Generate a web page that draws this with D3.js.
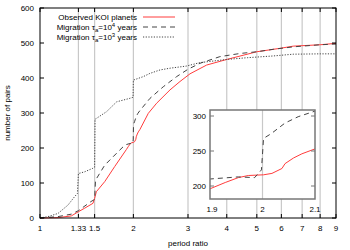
<!DOCTYPE html>
<html>
<head>
<meta charset="utf-8">
<script src="https://cdn.jsdelivr.net/npm/d3@7"></script>
<style>
  body { margin: 0; background: #fff; }
  text { font-family: "Liberation Sans", Arial, sans-serif; font-size: 8px; fill: #000; }
</style>
</head>
<body>
<div id="chart"></div>
<script>
// cumulative number of pairs vs period ratio
var observed = [[1,0],[1.143,1],[1.262,6],[1.33,18],[1.393,28],[1.482,42],[1.5,56],[1.519,75],[1.617,104],[1.741,147],
  [1.9,196],[1.929,205],[1.954,212],[1.973,215],[2.002,216],[2.018,218],[2.037,225],[2.043,232],[2.059,240],[2.075,246],
  [2.1,253],[2.234,299],[2.377,328],[2.625,366],[2.827,390],[3.045,412],[3.445,437],[4,453],[5,475],[5.96,485],[6.55,491],[8,495],[9,499]];

var mig4 = [[1,0],[1.143,4],[1.262,11],[1.33,21],[1.46,47],[1.5,53],[1.51,108],[1.617,151],[1.784,189],[1.856,204],
  [1.9,210],[1.954,213],[1.985,212],[1.998,223],[2.002,268],[2.017,275],[2.043,290],[2.068,299],[2.1,307],[2.263,342],
  [2.497,375],[2.758,404],[3.0,425],[3.279,442],[3.8,461],[4.41,470],[5,475],[5.65,482],[6.55,489],[8,495],[9,497]];

var mig3 = [[1,0],[1.061,4],[1.143,13],[1.231,37],[1.293,61],[1.32,70],[1.33,127],[1.393,132],[1.48,142],[1.5,145],
  [1.505,282],[1.64,304],[1.767,332],[1.95,342],[1.995,345],[2.0,394],[2.153,404],[2.26,413],[2.437,423],[2.625,428],
  [2.96,434],[3.28,444],[4,453],[4.66,458],[5.65,463],[6.55,468],[8,469],[9,469]];

var xTicks = [1, 1.33, 1.5, 2, 3, 4, 5, 6, 7, 8, 9];
var xGrid = [1.33, 1.5, 2, 3, 4, 5, 6, 7, 8];
var yTicks = [0, 100, 200, 300, 400, 500, 600];
var insetXTicks = [1.9, 2, 2.1];
var insetYTicks = [200, 250, 300];

var svg = d3.select("#chart").append("svg")
  .attr("width", 350).attr("height", 250);

var x = d3.scaleLog().domain([1, 9]).range([40, 336]);
var y = d3.scaleLinear().domain([0, 600]).range([218, 8]);

// grid
svg.selectAll(".grid").data(xGrid).enter().append("line")
  .attr("x1", d => x(d)).attr("x2", d => x(d))
  .attr("y1", y(600)).attr("y2", y(0))
  .attr("stroke", "#c8c8c8").attr("stroke-width", 1.2);

var styles = [
  {data: observed, color: "#ff3c3c", dash: null, w: 1},
  {data: mig4, color: "#444", dash: "5,4", w: 1},
  {data: mig3, color: "#444", dash: "1.2,1.5", w: 1}
];

function drawLines(g, xs, ys) {
  var line = d3.line().x(d => xs(d[0])).y(d => ys(d[1]));
  styles.forEach(function(s) {
    g.append("path").datum(s.data)
      .attr("d", line)
      .attr("fill", "none")
      .attr("stroke", s.color)
      .attr("stroke-width", s.w)
      .attr("stroke-dasharray", s.dash);
  });
}

drawLines(svg.append("g"), x, y);

// frame and ticks
svg.append("rect").attr("x", 40).attr("y", 8).attr("width", 296).attr("height", 210)
  .attr("fill", "none").attr("stroke", "#000").attr("stroke-width", 1);

xTicks.forEach(function(t) {
  svg.append("line").attr("x1", x(t)).attr("x2", x(t)).attr("y1", 218).attr("y2", 214).attr("stroke", "#000");
  svg.append("line").attr("x1", x(t)).attr("x2", x(t)).attr("y1", 8).attr("y2", 12).attr("stroke", "#000");
  svg.append("text").attr("x", x(t)).attr("y", 231).attr("text-anchor", "middle").text(t);
});
yTicks.forEach(function(t) {
  svg.append("line").attr("x1", 40).attr("x2", 44).attr("y1", y(t)).attr("y2", y(t)).attr("stroke", "#000");
  svg.append("line").attr("x1", 336).attr("x2", 332).attr("y1", y(t)).attr("y2", y(t)).attr("stroke", "#000");
  svg.append("text").attr("x", 34).attr("y", y(t) + 3).attr("text-anchor", "end").text(t);
});

svg.append("text").attr("x", 188).attr("y", 246).attr("text-anchor", "middle").text("period ratio");
svg.append("text").attr("transform", "translate(10,113) rotate(-90)").attr("text-anchor", "middle").text("number of pairs");

// legend
var legend = svg.append("g");
var rows = [
  {t: ["Observed KOI planets"], s: styles[0]},
  {t: ["Migration τ", "a", "=10", "4", " years"], s: styles[1]},
  {t: ["Migration τ", "a", "=10", "3", " years"], s: styles[2]}
];
rows.forEach(function(r, i) {
  var ly = 17 + i * 10;
  var txt = legend.append("text").attr("x", 137).attr("y", ly + 3).attr("text-anchor", "end");
  if (r.t.length === 1) {
    txt.text(r.t[0]);
  } else {
    txt.append("tspan").text(r.t[0]);
    txt.append("tspan").attr("dy", 2).attr("font-size", "6px").text(r.t[1]);
    txt.append("tspan").attr("dy", -2).text(r.t[2]);
    txt.append("tspan").attr("dy", -3).attr("font-size", "6px").text(r.t[3]);
    txt.append("tspan").attr("dy", 3).text(r.t[4]);
  }
  legend.append("line").attr("x1", 143).attr("x2", 175).attr("y1", ly).attr("y2", ly)
    .attr("stroke", r.s.color).attr("stroke-width", r.s.w).attr("stroke-dasharray", r.s.dash);
});

// inset
var ix = d3.scaleLinear().domain([1.9, 2.1]).range([210, 315]);
var iy = d3.scaleLinear().domain([200, 300]).range([186, 116]);
var inset = svg.append("g");
inset.append("rect").attr("x", 210).attr("y", 110).attr("width", 105).attr("height", 89).attr("fill", "#fff");
svg.append("clipPath").attr("id", "iclip").append("rect")
  .attr("x", 210).attr("y", 110).attr("width", 105).attr("height", 89);
inset.append("line").attr("x1", ix(2)).attr("x2", ix(2)).attr("y1", 110).attr("y2", 199)
  .attr("stroke", "#c8c8c8").attr("stroke-width", 1.2);
drawLines(inset.append("g").attr("clip-path", "url(#iclip)"), ix, iy);
inset.append("rect").attr("x", 210).attr("y", 110).attr("width", 105).attr("height", 89)
  .attr("fill", "none").attr("stroke", "#777").attr("stroke-width", 1.5);
insetYTicks.forEach(function(t) {
  inset.append("line").attr("x1", 210).attr("x2", 214).attr("y1", iy(t)).attr("y2", iy(t)).attr("stroke", "#777");
  inset.append("line").attr("x1", 315).attr("x2", 311).attr("y1", iy(t)).attr("y2", iy(t)).attr("stroke", "#777");
  inset.append("text").attr("x", 206).attr("y", iy(t) + 3).attr("text-anchor", "end").text(t);
});
insetXTicks.forEach(function(t) {
  inset.append("text").attr("x", ix(t) + (t === 1.9 ? 2 : 0)).attr("y", 212).attr("text-anchor", "middle").text(t);
});
</script>
</body>
</html>
